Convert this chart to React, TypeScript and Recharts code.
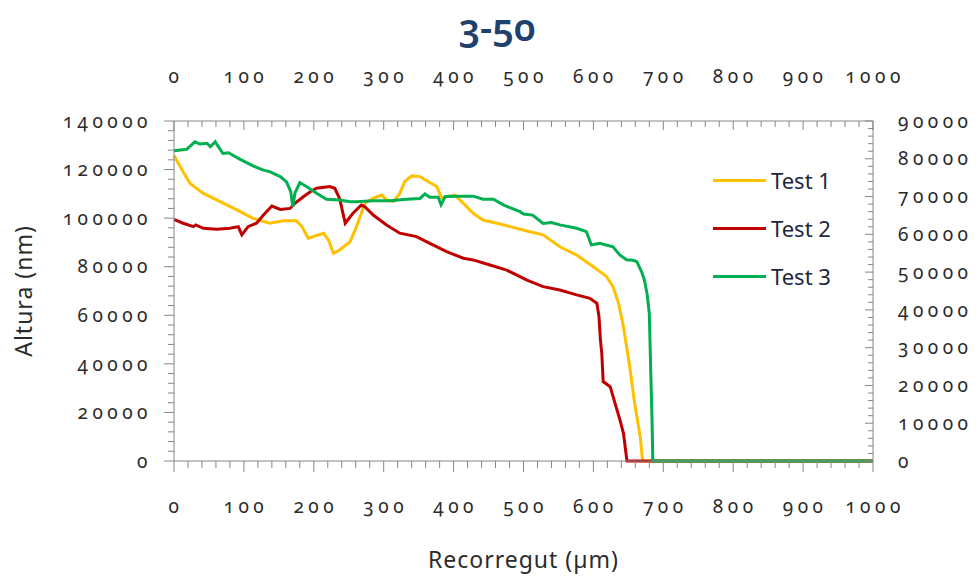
import { Line, LineChart, XAxis, YAxis } from "recharts";

const chartTitle = "3-50";
const xTitle = "Recorregut (µm)";
const yTitle = "Altura (nm)";

const seriesNames = ["Test 1", "Test 2", "Test 3"];
const seriesColors = ["#FFC000", "#C00000", "#00B050"];

// [recorregut µm, altura nm] - left axis
const test1: [number, number][] = [
    [0, 125800], [13, 119100], [23, 114300], [42, 110200], [66, 106800], [90, 103400],
    [113, 99900], [137, 97900], [156, 98900], [175, 98900], [183, 96500], [192, 91700],
    [199, 92400], [214, 93800], [221, 91000], [228, 85500], [237, 86900], [252, 90300],
    [261, 96500], [268, 102000], [273, 106100], [285, 108200], [297, 109500], [304, 107500],
    [314, 106800], [323, 110200], [330, 115000], [340, 117400], [352, 117100], [364, 115000],
    [376, 113000], [383, 108200], [390, 108800], [402, 109500], [414, 106100], [428, 102000],
    [442, 99200], [462, 97900], [481, 96500], [509, 94400], [528, 93100], [552, 88200],
    [576, 84800], [600, 80000], [619, 75900], [628, 71800], [636, 64900], [643, 55300],
    [652, 38800], [659, 23700], [667, 10000], [670, 1100], [672, 0], [1000, 0],
];

const test2: [number, number][] = [
    [0, 99500], [13, 97900], [28, 96500], [31, 97200], [42, 95800], [61, 95400],
    [80, 95800], [92, 96500], [97, 93100], [106, 96500], [118, 97900], [128, 101300],
    [140, 105000], [152, 103600], [166, 104000], [173, 106100], [185, 108800], [195, 110900],
    [204, 112300], [223, 113000], [230, 112300], [237, 108000], [245, 97900], [256, 102000],
    [268, 105400], [273, 104700], [285, 101300], [304, 97200], [323, 93800], [347, 92400],
    [366, 89600], [390, 86200], [414, 83500], [428, 82800], [452, 80700], [476, 78600],
    [495, 75900], [505, 74500], [528, 71800], [552, 70400], [576, 68400], [595, 67000],
    [605, 64900], [608, 59400], [610, 50000], [612, 44300], [614, 32700], [624, 30600],
    [631, 23700], [638, 16900], [643, 11400], [648, 0], [1000, 0],
];

// Test 3 sits on the secondary axes (top / right)
const test3: [number, number][] = [
    [0, 82100], [18, 82500], [30, 84500], [37, 83900], [47, 84100], [52, 83200],
    [59, 84500], [62, 83600], [70, 81400], [78, 81600], [94, 79900], [113, 78100],
    [128, 77000], [137, 76600], [152, 75300], [161, 73900], [167, 71300], [170, 67300],
    [173, 70900], [180, 73700], [190, 72600], [204, 70900], [218, 69300], [237, 69100],
    [252, 68600], [261, 68600], [285, 68900], [309, 68900], [333, 69300], [352, 69500],
    [359, 70700], [366, 69800], [378, 69800], [382, 67800], [388, 70000], [409, 70100],
    [428, 70100], [442, 69300], [457, 69300], [471, 67800], [495, 66000], [500, 65400],
    [513, 65100], [528, 62900], [540, 63100], [552, 62500], [576, 61600], [590, 60700],
    [597, 57200], [609, 57600], [628, 56700], [638, 54500], [648, 53200], [655, 53200],
    [662, 52800], [669, 50100], [673, 47900], [677, 44000], [680, 39000], [682, 24000],
    [684, 10000], [685, 0], [1000, 0],
];

const xLabels = [0, 100, 200, 300, 400, 500, 600, 700, 800, 900, 1000];
const leftLabels = [0, 20000, 40000, 60000, 80000, 100000, 120000, 140000];
const rightLabels = [0, 10000, 20000, 30000, 40000, 50000, 60000, 70000, 80000, 90000];

const WIDTH = 979;
const HEIGHT = 580;
const LEFT_W = 174;
const RIGHT_W = 106;
const TOP_H = 121;
const BOTTOM_H = 119;

const AXIS = "#868686";
const TEXT = "#2b2b2b";
const FONT = "'Noto Sans', 'Open Sans', sans-serif";

const toPoints = (pts: [number, number][]) => pts.map(([x, y]) => ({ x, y }));

// major labels plus evenly spaced minor tick positions between them
function withMinor(major: number[], parts: number) {
    const out: number[] = [];
    for (let i = 0; i < major.length - 1; i++) {
        const step = (major[i + 1] - major[i]) / parts;
        for (let k = 0; k < parts; k++) out.push(major[i] + k * step);
    }
    out.push(major[major.length - 1]);
    return out;
}

const labelStyle = {
    fontFamily: FONT,
    fontSize: 19,
    letterSpacing: 4.5,
    fontVariantNumeric: "oldstyle-nums",
    fill: TEXT,
} as const;

type Side = "left" | "right" | "top" | "bottom";

function makeTick(side: Side, majors: number[], majorLen: number, minorLen: number) {
    return (props: any) => {
        const { x, y, payload } = props;
        const isMajor = majors.includes(payload.value);
        const len = isMajor ? majorLen : minorLen;
        let line;
        let label = null;
        if (side === "left") {
            line = <line x1={x} x2={x - len} y1={y} y2={y} stroke={AXIS} />;
            if (isMajor) label = <text x={x - 22} y={y} dy="0.35em" textAnchor="end" style={labelStyle}>{payload.value}</text>;
        } else if (side === "right") {
            line = <line x1={x} x2={x - len} y1={y} y2={y} stroke={AXIS} />;
            if (isMajor) label = <text x={x + 25} y={y} dy="0.35em" textAnchor="start" style={labelStyle}>{payload.value}</text>;
        } else if (side === "bottom") {
            line = <line x1={x} x2={x} y1={y} y2={y + len} stroke={AXIS} />;
            if (isMajor) label = <text x={x + 2} y={y + 45} dy="0.35em" textAnchor="middle" style={labelStyle}>{payload.value}</text>;
        } else {
            line = <line x1={x} x2={x} y1={y} y2={y + len} stroke={AXIS} />;
            if (isMajor) label = <text x={x + 2} y={y - 45} dy="0.35em" textAnchor="middle" style={labelStyle}>{payload.value}</text>;
        }
        return (
            <g>
                {line}
                {label}
            </g>
        );
    };
}

const titleStyle = { fontFamily: FONT, fontSize: 23, letterSpacing: 1, fill: TEXT } as const;

function SeriesLegend() {
    return (
        <div style={{ position: "absolute", left: 713, top: 156, fontFamily: FONT }}>
            {seriesNames.map((name, i) => (
                <div key={name} style={{ display: "flex", alignItems: "center", height: 48 }}>
                    <span style={{ display: "inline-block", width: 53, height: 3, background: seriesColors[i], marginRight: 5 }} />
                    <span style={{ fontSize: 22, color: "#1f2740" }}>{name}</span>
                </div>
            ))}
        </div>
    );
}

export default function App() {
    const plotCenterX = LEFT_W + (WIDTH - LEFT_W - RIGHT_W) / 2;
    const plotCenterY = TOP_H + (HEIGHT - TOP_H - BOTTOM_H) / 2;

    return (
        <div style={{ position: "absolute", left: 0, top: 0, width: WIDTH, height: HEIGHT, background: "#fff" }}>
            <div
                style={{
                    position: "absolute",
                    left: 397,
                    top: 0,
                    width: 200,
                    textAlign: "center",
                    fontFamily: FONT,
                    fontSize: 38,
                    fontWeight: 600,
                    fontVariantNumeric: "oldstyle-nums",
                    color: "#1f4170",
                }}
            >
                {chartTitle}
            </div>
            <LineChart width={WIDTH} height={HEIGHT} margin={{ top: 0, right: 0, bottom: 0, left: 0 }}>
                <XAxis
                    xAxisId="bottom"
                    dataKey="x"
                    type="number"
                    domain={[0, 1000]}
                    ticks={withMinor(xLabels, 5)}
                    interval={0}
                    height={BOTTOM_H}
                    tickSize={0}
                    tickMargin={0}
                    tickLine={false}
                    axisLine={{ stroke: AXIS }}
                    tick={makeTick("bottom", xLabels, 11, 7)}
                    label={{
                        content: () => (
                            <text x={plotCenterX} y={HEIGHT - 20} dy="0.35em" textAnchor="middle" style={titleStyle}>
                                {xTitle}
                            </text>
                        ),
                    }}
                />
                <XAxis
                    xAxisId="top"
                    orientation="top"
                    dataKey="x"
                    type="number"
                    domain={[0, 1000]}
                    ticks={withMinor(xLabels, 5)}
                    interval={0}
                    height={TOP_H}
                    tickSize={0}
                    tickMargin={0}
                    tickLine={false}
                    axisLine={{ stroke: AXIS }}
                    tick={makeTick("top", xLabels, 9, 6)}
                />
                <YAxis
                    yAxisId="left"
                    type="number"
                    domain={[0, 140000]}
                    ticks={withMinor(leftLabels, 5)}
                    interval={0}
                    width={LEFT_W}
                    tickSize={0}
                    tickMargin={0}
                    tickLine={false}
                    axisLine={{ stroke: AXIS }}
                    tick={makeTick("left", leftLabels, 10, 6)}
                    label={{
                        content: () => (
                            <text
                                x={24}
                                y={plotCenterY}
                                dy="0.35em"
                                textAnchor="middle"
                                transform={`rotate(-90 24 ${plotCenterY})`}
                                style={titleStyle}
                            >
                                {yTitle}
                            </text>
                        ),
                    }}
                />
                <YAxis
                    yAxisId="right"
                    orientation="right"
                    type="number"
                    domain={[0, 90000]}
                    ticks={withMinor(rightLabels, 5)}
                    interval={0}
                    width={RIGHT_W}
                    tickSize={0}
                    tickMargin={0}
                    tickLine={false}
                    axisLine={{ stroke: AXIS }}
                    tick={makeTick("right", rightLabels, 8, 5)}
                />
                <Line
                    xAxisId="bottom"
                    yAxisId="left"
                    data={toPoints(test1)}
                    dataKey="y"
                    name={seriesNames[0]}
                    stroke={seriesColors[0]}
                    strokeWidth={3}
                    dot={false}
                    isAnimationActive={false}
                />
                <Line
                    xAxisId="bottom"
                    yAxisId="left"
                    data={toPoints(test2)}
                    dataKey="y"
                    name={seriesNames[1]}
                    stroke={seriesColors[1]}
                    strokeWidth={3}
                    dot={false}
                    isAnimationActive={false}
                />
                <Line
                    xAxisId="top"
                    yAxisId="right"
                    data={toPoints(test3)}
                    dataKey="y"
                    name={seriesNames[2]}
                    stroke={seriesColors[2]}
                    strokeWidth={3}
                    dot={false}
                    isAnimationActive={false}
                />
            </LineChart>
            <SeriesLegend />
        </div>
    );
}
